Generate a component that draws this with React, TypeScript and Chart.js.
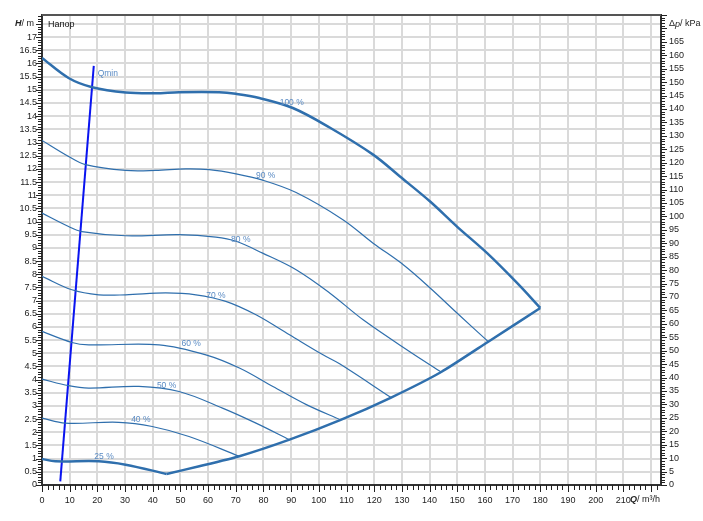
import React, { useEffect, useRef } from 'react';
import { Chart, registerables } from 'chart.js';
Chart.register(...registerables);

// Flow Q (m³/h) and head H (m) for each speed curve
const Q100 = [0, 9.6, 18.1, 30.2, 41, 49.5, 64, 70, 78.5, 90.6, 103.9, 119.6, 129.3, 140.2, 149.9, 160.8, 171.6, 180];
const H100 = [16.21, 15.45, 15.1, 14.9, 14.87, 14.91, 14.91, 14.85, 14.69, 14.31, 13.57, 12.54, 11.71, 10.76, 9.81, 8.8, 7.67, 6.72];
const Q90 = [0, 9.6, 15.7, 30.2, 41, 51.9, 60.4, 70.1, 79.7, 91.8, 108.7, 119.6, 130.5, 140.2, 149.9, 161.2];
const H90 = [13.08, 12.47, 12.16, 11.94, 11.94, 12.0, 11.97, 11.81, 11.57, 11.1, 10.07, 9.18, 8.36, 7.48, 6.53, 5.44];
const Q80 = [0, 9.6, 14.4, 30.2, 49.5, 62.8, 70.1, 79.7, 91.8, 103.9, 116, 133, 144.2];
const H80 = [10.32, 9.81, 9.62, 9.46, 9.5, 9.41, 9.25, 8.8, 8.17, 7.29, 6.27, 5.05, 4.29];
const Q70 = [0, 10.8, 20.5, 30.2, 44.7, 55.6, 66.4, 77.3, 89.4, 101.5, 107.5, 126.1];
const H70 = [7.92, 7.41, 7.22, 7.22, 7.29, 7.22, 6.97, 6.46, 5.7, 4.94, 4.6, 3.32];
const Q60 = [0, 10.8, 16.9, 42.3, 59.2, 71.3, 83.4, 95.5, 107.9];
const H60 = [5.83, 5.41, 5.32, 5.32, 4.94, 4.44, 3.74, 3.05, 2.47];
const Q50 = [0, 9.6, 16.9, 35, 49.5, 65.2, 77.3, 89.4];
const H50 = [4.02, 3.77, 3.68, 3.74, 3.55, 2.92, 2.35, 1.72];
const Q40 = [0, 8.4, 27.7, 39.8, 53.1, 71.3];
const H40 = [2.54, 2.35, 2.38, 2.22, 1.84, 1.09];
const Q25 = [0, 4.8, 20.5, 30.2, 45];
const H25 = [0.99, 0.9, 0.9, 0.77, 0.42];
const QEnv = [45, 56.8, 71.3, 89.4, 107.9, 126.1, 144.2, 161.2, 180];
const HEnv = [0.42, 0.71, 1.09, 1.72, 2.47, 3.32, 4.29, 5.44, 6.72];
const QMinQ = [6.6, 18.7];
const QMinH = [0.14, 15.91];

// Curve labels
const labelTexts = ['100 %', '90 %', '80 %', '70 %', '60 %', '50 %', '40 %', '25 %'];
const labelQ = [90.2, 80.8, 71.8, 62.8, 53.9, 45.0, 35.7, 22.4];
const labelH = [14.5, 11.74, 9.31, 7.18, 5.36, 3.77, 2.48, 1.09];

const X_MAX = 223.6;
const H_MAX = 17.84;
const P_MAX = 175;

const LINE = '#2f6fad';
const LABEL = '#5a8bc4';
const FONT = "'Liberation Sans', Arial, sans-serif";

const pts = (q: number[], h: number[]) => q.map((x, i) => ({ x, y: h[i] }));

const overlay = {
  id: 'overlay',
  afterDatasetsDraw(chart: any) {
    const { ctx, scales } = chart;
    const x = scales.x, y = scales.y;
    ctx.save();
    ctx.font = `8.5px ${FONT}`;
    ctx.fillStyle = LABEL;
    ctx.textAlign = 'center';
    ctx.textBaseline = 'middle';
    labelTexts.forEach((t, i) => {
      ctx.fillText(t, x.getPixelForValue(labelQ[i]), y.getPixelForValue(labelH[i]));
    });
    ctx.textAlign = 'left';
    ctx.fillText('Qmin', x.getPixelForValue(20.1), y.getPixelForValue(15.6));
    ctx.restore();
  },
  afterDraw(chart: any) {
    const { ctx, chartArea: ca, scales } = chart;
    const x = scales.x, y = scales.y, y1 = scales.y1;
    ctx.save();
    // top border
    ctx.strokeStyle = '#555';
    ctx.lineWidth = 2;
    ctx.beginPath();
    ctx.moveTo(ca.left, ca.top);
    ctx.lineTo(ca.right, ca.top);
    ctx.stroke();
    // tick marks
    ctx.strokeStyle = '#222';
    ctx.lineWidth = 1;
    ctx.beginPath();
    for (let i = 0; i <= 178; i++) {
      const py = Math.round(y.getPixelForValue(i / 10)) + 0.5;
      const len = i % 5 === 0 ? 5 : 3;
      ctx.moveTo(ca.left - 1 - len, py);
      ctx.lineTo(ca.left, py);
    }
    for (let i = 0; i <= 175; i++) {
      const py = Math.round(y1.getPixelForValue(i)) + 0.5;
      const len = i % 5 === 0 ? 5 : 3;
      ctx.moveTo(ca.right, py);
      ctx.lineTo(ca.right + 1 + len, py);
    }
    for (let i = 0; i <= 222; i += 2) {
      const px = Math.round(x.getPixelForValue(i)) + 0.5;
      const len = i % 10 === 0 ? 6 : 4;
      ctx.moveTo(px, ca.bottom);
      ctx.lineTo(px, ca.bottom + 1 + len);
    }
    ctx.stroke();
    // axis titles
    ctx.fillStyle = '#222';
    ctx.textBaseline = 'middle';
    ctx.textAlign = 'left';
    const parts = (xs: number, ys: number, segs: [string, string][]) => {
      let cx = xs;
      segs.forEach(([t, f]) => {
        ctx.font = `${f}9px ${FONT}`;
        ctx.fillText(t, cx, ys);
        cx += ctx.measureText(t).width;
      });
    };
    parts(15, 24, [['H', 'italic bold '], ['/ m', '']]);
    parts(669, 24, [['Δ', ''], ['p', 'italic '], ['/ kPa', '']]);
    parts(630, 500, [['Q', 'italic bold '], ['/ m³/h', '']]);
    ctx.fillStyle = '#111';
    ctx.font = `9px ${FONT}`;
    ctx.fillText('Напор', 48, 25);
    ctx.restore();
  },
};

export default function App() {
  const ref = useRef<HTMLCanvasElement>(null);
  useEffect(() => {
    if (!ref.current) return;
    const thin = (q: number[], h: number[]) => ({
      data: pts(q, h), borderColor: LINE, borderWidth: 1.2, pointRadius: 0, fill: false,
      tension: 0.35, xAxisID: 'x', yAxisID: 'y',
    });
    const thick = (q: number[], h: number[]) => ({ ...thin(q, h), borderWidth: 2.5 });
    const chart = new Chart(ref.current, {
      type: 'line',
      data: {
        datasets: [
          thick(Q100, H100),
          thin(Q90, H90),
          thin(Q80, H80),
          thin(Q70, H70),
          thin(Q60, H60),
          thin(Q50, H50),
          thin(Q40, H40),
          thick(Q25, H25),
          { ...thick(QEnv, HEnv), tension: 0.2 },
          { ...thin(QMinQ, QMinH), borderColor: '#0a14f0', borderWidth: 2, tension: 0 },
        ] as any,
      },
      options: {
        animation: false,
        responsive: false,
        events: [],
        layout: { padding: { top: 15, left: 0, right: 0, bottom: 0 } },
        plugins: { legend: { display: false }, tooltip: { enabled: false } },
        scales: {
          x: {
            type: 'linear', min: 0, max: X_MAX,
            afterFit: (s: any) => { s.height = 36; },
            border: { display: true, color: '#333', width: 2 },
            grid: { color: '#dadada', lineWidth: 2, drawTicks: false },
            ticks: {
              stepSize: 10, includeBounds: false, padding: 10, color: '#222', maxRotation: 0, autoSkip: false,
              font: { family: FONT, size: 9 },
              callback: (v: any) => (v > 210 ? '' : String(v)),
            },
          },
          y: {
            type: 'linear', position: 'left', min: 0, max: H_MAX,
            afterFit: (s: any) => { s.width = 42; },
            border: { display: true, color: '#333', width: 2 },
            grid: { color: '#dadada', lineWidth: 2, drawTicks: false },
            ticks: {
              stepSize: 0.5, includeBounds: false, padding: 5, color: '#222', autoSkip: false,
              font: { family: FONT, size: 9 },
              callback: (v: any) => (v > 17.2 ? '' : String(Math.round(v * 10) / 10)),
            },
          },
          y1: {
            type: 'linear', position: 'right', min: 0, max: P_MAX,
            afterFit: (s: any) => { s.width = 42; },
            border: { display: true, color: '#333', width: 2 },
            grid: { display: false, drawTicks: false },
            ticks: {
              stepSize: 5, includeBounds: false, padding: 8, color: '#222', autoSkip: false,
              font: { family: FONT, size: 9 },
              callback: (v: any) => (v >= 170 ? '' : String(v)),
            },
          },
        },
      } as any,
      plugins: [overlay],
    });
    return () => chart.destroy();
  }, []);
  return (
    <div style={{ position: 'fixed', left: 0, top: 0, width: 703, height: 521, background: '#fff' }}>
      <canvas ref={ref} width={703} height={521} style={{ display: 'block' }} />
    </div>
  );
}
